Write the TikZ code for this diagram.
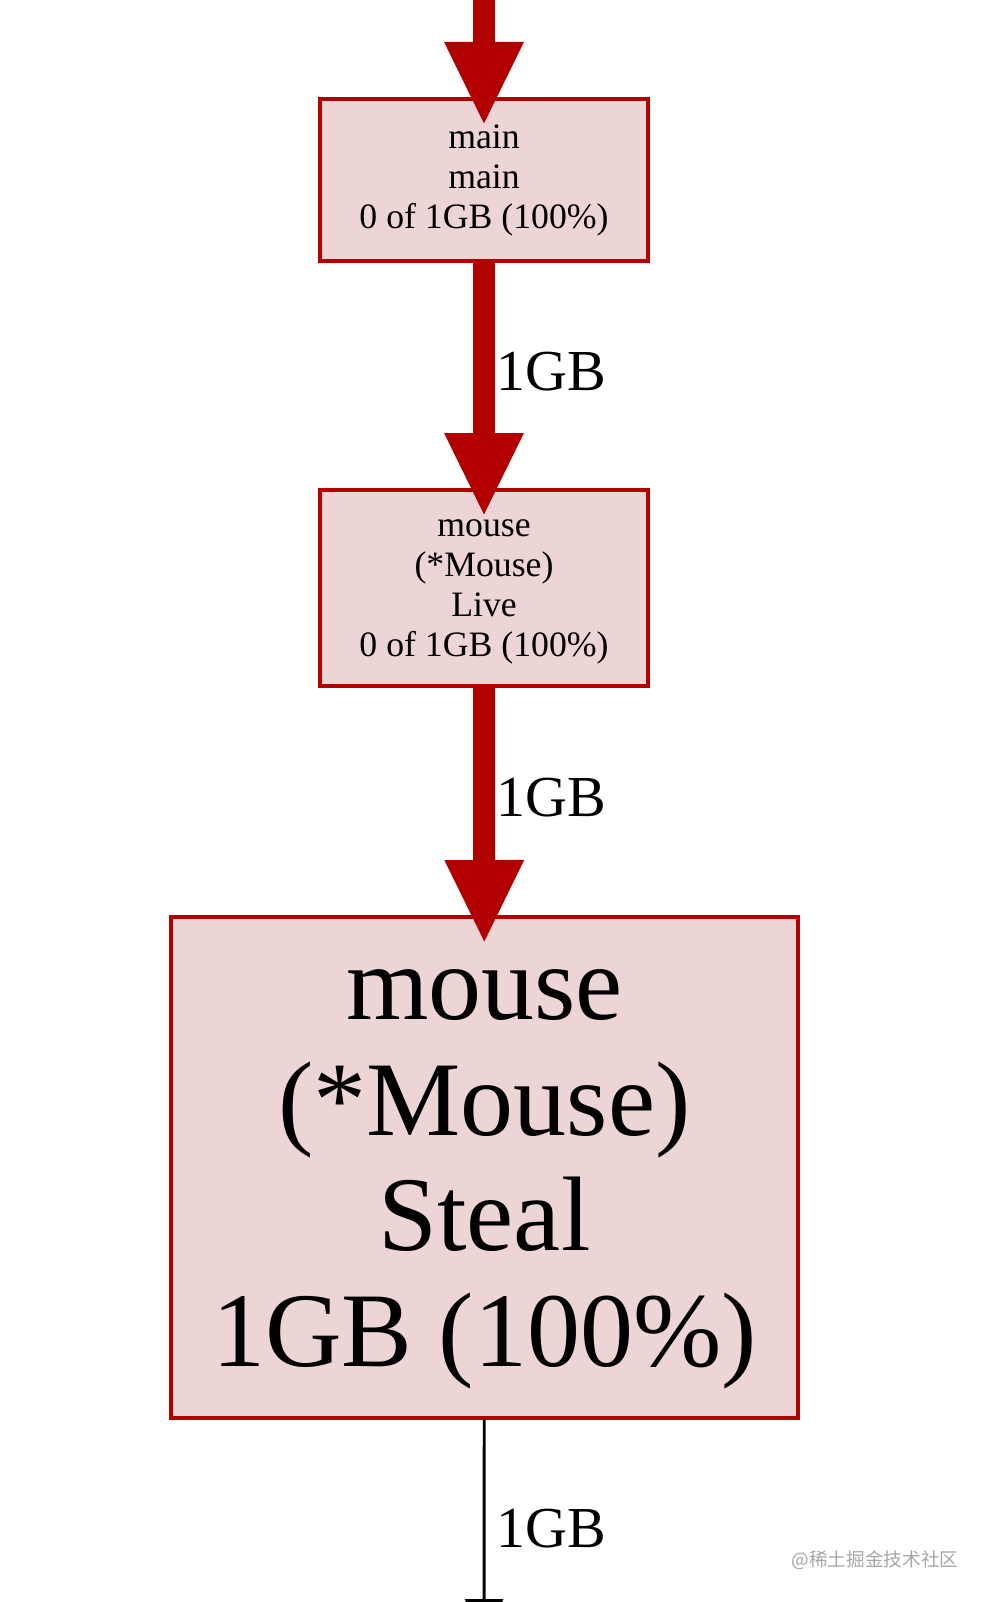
\documentclass[tikz,border=0pt]{standalone}
\usepackage{fontspec}
\setmainfont{Liberation Serif}
\newfontfamily\cjkfont{Noto Sans CJK SC}
\usetikzlibrary{arrows.meta, positioning}
\definecolor{hotred}{HTML}{B20000}
\definecolor{hotfill}{HTML}{EDD5D5}

\tikzset{
  fnode/.style={rectangle, draw=hotred, fill=hotfill, line width=3pt, align=center, inner sep=0pt},
  smalltxt/.style={font=\fontsize{26.8}{30}\selectfont},
  bigtxt/.style={font=\fontsize{79.5}{86.6}\selectfont},
  hotedge/.style={draw=hotred, line width=16.5pt, -{Triangle[length=63pt, width=54.75pt]}, shorten >=-21.75pt},
  thinedge/.style={draw=black, line width=2.2pt, -{Triangle[length=34.5pt, width=28.5pt]}},
  gblabel/.style={anchor=west, inner sep=0pt, outer sep=0pt, xshift=9.5pt, yshift=3pt, font=\fontsize{43.5}{48}\selectfont}
}

\begin{document}
\begin{tikzpicture}[x=0.75pt, y=-0.75pt]
  \path[use as bounding box] (0,0) rectangle (986,1602);
  \clip (0,0) rectangle (986,1602);
  % callers above and below
  \coordinate (in) at (484,-129);
  \coordinate (out) at (484,1645);
  % nodes
  \node[fnode, smalltxt, minimum width=246pt, minimum height=121.5pt] (main) at (484,180)
    {\vphantom{(}main\\main\\0 of 1GB (100\%)};
  \node[fnode, smalltxt, minimum width=246pt, minimum height=147pt] (live) at (484,588)
    {\vphantom{(}mouse\\(*Mouse)\\Live\\0 of 1GB (100\%)};
  \node[fnode, bigtxt, minimum width=470.25pt, minimum height=375.75pt] (steal) at (484.5,1167.5)
    {\vphantom{(}mouse\\(*Mouse)\\Steal\\1GB (100\%)};
  % edges
  \draw[hotedge] (in) -- node[gblabel] {1GB} (main);
  \draw[hotedge] (main) -- node[gblabel] {1GB} (live);
  \draw[hotedge] (live) -- node[gblabel] {1GB} (steal);
  \draw[thinedge] (steal) -- node[gblabel] {1GB} (out);
  % watermark
  \node[text=black!35, font=\cjkfont\fontsize{14}{17}\selectfont] (wm) at (875,1560) {@稀土掘金技术社区};
\end{tikzpicture}
\end{document}
